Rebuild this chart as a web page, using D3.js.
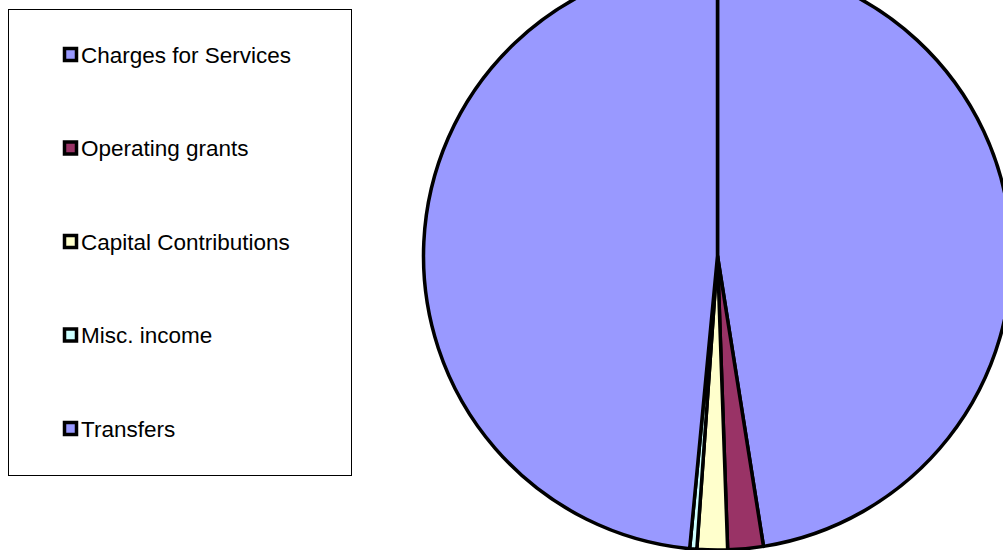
<!DOCTYPE html>
<html>
<head>
<meta charset="utf-8">
<script src="https://cdn.jsdelivr.net/npm/d3@7"></script>
<style>
  body { margin: 0; background: #fff; }
  svg { display: block; }
  text { font-family: Arial, "Liberation Sans", sans-serif; }
</style>
</head>
<body>
<div id="chart"></div>
<script>
// revenue share by source (percent)
var categories = ["Charges for Services", "Operating grants", "Capital Contributions", "Misc. income", "Transfers"];
var values = [47.5, 1.95, 1.67, 0.39, 48.49];
var colors = ["#9999FF", "#993366", "#FFFFCC", "#CCFFFF", "#9999FF"];

var width = 1003, height = 550;
var cx = 717.5, cy = 256, radius = 294;

var svg = d3.select("#chart").append("svg")
  .attr("width", width)
  .attr("height", height);

var color = d3.scaleOrdinal().domain(categories).range(colors);

var pie = d3.pie()
  .sort(null)
  .value(function(d) { return d.value; });

var arc = d3.arc().innerRadius(0).outerRadius(radius);

var data = categories.map(function(c, i) { return { name: c, value: values[i] }; });

var g = svg.append("g")
  .attr("transform", "translate(" + cx + "," + cy + ")");

g.selectAll("path.slice")
  .data(pie(data))
  .enter()
  .append("path")
  .attr("class", "slice")
  .attr("d", arc)
  .attr("fill", function(d) { return color(d.data.name); })
  .attr("stroke", "#000")
  .attr("stroke-width", 3.5)
  .attr("stroke-linejoin", "round");

// legend
var legend = svg.append("g").attr("id", "legend");
legend.append("rect")
  .attr("x", 8.5)
  .attr("y", 9.5)
  .attr("width", 343)
  .attr("height", 466)
  .attr("fill", "#fff")
  .attr("stroke", "#000")
  .attr("stroke-width", 1);

var rowY = d3.scalePoint().domain(categories).range([55, 429]);

var items = legend.selectAll("g.item")
  .data(categories)
  .enter()
  .append("g")
  .attr("class", "item")
  .attr("transform", function(d) { return "translate(0," + rowY(d) + ")"; });

items.append("rect")
  .attr("x", 64.5)
  .attr("y", -6.5)
  .attr("width", 12)
  .attr("height", 12)
  .attr("fill", function(d) { return color(d); })
  .attr("stroke", "#000")
  .attr("stroke-width", 3.5);

items.append("text")
  .attr("x", 81)
  .attr("y", 7.5)
  .style("font-size", "22.5px")
  .attr("fill", "#000")
  .text(function(d) { return d; });
</script>
</body>
</html>
